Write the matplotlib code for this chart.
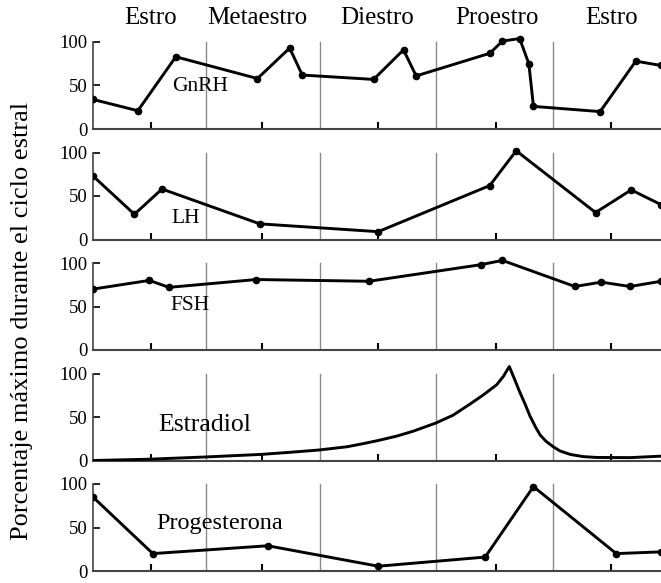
import matplotlib.pyplot as plt

plt.rcParams['font.family'] = ['Liberation Serif', 'DejaVu Serif']

# x axis in "phase units": left axis at 0, each phase about 1 unit wide
phases = ['Estro', 'Metaestro', 'Diestro', 'Proestro', 'Estro']
phase_centers = [0.50, 1.43, 2.47, 3.51, 4.51]
phase_bounds = [0.98, 1.97, 2.98, 4.0]
tick_pos = [0.50, 1.47, 2.48, 3.50, 4.50]

gnrh_x = [0, 0.39, 0.72, 1.43, 1.71, 1.82, 2.44, 2.70, 2.81, 3.45, 3.56, 3.71, 3.79, 3.83, 4.41, 4.72, 4.94]
gnrh_y = [34, 21, 83, 58, 93, 62, 57, 91, 61, 87, 101, 104, 75, 26, 20, 78, 73]

lh_x = [0, 0.36, 0.60, 1.45, 2.48, 3.45, 3.68, 4.37, 4.68, 4.94]
lh_y = [73, 29, 58, 18, 9, 62, 102, 31, 57, 40]

fsh_x = [0, 0.49, 0.66, 1.42, 2.40, 3.37, 3.56, 4.19, 4.42, 4.67, 4.94]
fsh_y = [70, 80, 72, 81, 79, 98, 103, 73, 78, 73, 79]

# estradiol is a smooth curve in the figure, read at many places
estr_x = [0, 0.49, 0.97, 1.46, 1.72, 1.96, 2.21, 2.35, 2.48, 2.64, 2.78, 2.98, 3.13, 3.28,
          3.39, 3.51, 3.57, 3.62, 3.67, 3.71, 3.76, 3.80, 3.85, 3.89, 3.94, 4.0, 4.06,
          4.15, 4.26, 4.38, 4.67, 4.94]
estr_y = [0, 1.5, 4, 7, 9.5, 12, 15.8, 19.4, 23, 28, 33.5, 43, 52, 65,
          75, 87, 97, 108, 92, 79, 64, 51, 38, 29, 22, 16, 11,
          7, 4.5, 3.5, 3.3, 5]

prog_x = [0, 0.52, 1.52, 2.48, 3.41, 3.83, 4.55, 4.94]
prog_y = [85, 20, 29, 5.5, 16, 97, 20, 22]

series = [
    (gnrh_x, gnrh_y, True, 'GnRH', 0.93, 49, 15.5),
    (lh_x, lh_y, True, 'LH', 0.81, 24, 15.5),
    (fsh_x, fsh_y, True, 'FSH', 0.84, 51, 15.5),
    (estr_x, estr_y, False, 'Estradiol', 0.97, 41, 18.5),
    (prog_x, prog_y, True, 'Progesterona', 1.10, 55, 17.5),
]

W, H = 661, 583
fig = plt.figure(figsize=(W / 100, H / 100), dpi=100)

x_left = 93
unit_px = 87  # pixels for 0..100
top_lim = 112

for i, (xs, ys, markers, name, lx, ly, fs) in enumerate(series):
    y0 = 129 + 110.5 * i
    h = unit_px * top_lim / 100
    ax = fig.add_axes([x_left / W, 1 - y0 / H, 1 - x_left / W, h / H])
    ax.set_xlim(0, (W - x_left) / 115)
    ax.set_ylim(0, top_lim)

    for b in phase_bounds:
        ax.plot([b, b], [0, 100], color='#8a8a8a', lw=1, zorder=1)

    ax.plot(xs, ys, color='black', lw=2.1, zorder=3, solid_joinstyle='round',
            marker='o' if markers else None, markersize=4.5)

    ax.text(lx, ly, name, fontsize=fs, ha='center', va='center')

    for s in ['top', 'right']:
        ax.spines[s].set_visible(False)
    ax.spines['left'].set_bounds(0, 100)
    ax.spines['left'].set_color('#444444')
    ax.spines['bottom'].set_color('#444444')
    ax.spines['left'].set_linewidth(1.2)
    ax.spines['bottom'].set_linewidth(1.5)

    ax.set_yticks([0, 50, 100])
    ax.set_xticks(tick_pos)
    ax.set_xticklabels([])
    ax.tick_params(axis='y', direction='in', length=5, width=1.2, labelsize=13.5, pad=4)
    ax.tick_params(axis='x', direction='in', length=5, width=1.5)
    for lbl in ax.get_yticklabels():
        lbl.set_verticalalignment('center_baseline')

    if i == 0:
        for c, p in zip(phase_centers, phases):
            ax.text(c, 128, p, fontsize=18, ha='center', va='center', clip_on=False)

fig.text(22 / W, 1 - 321 / H, 'Porcentaje máximo durante el ciclo estral',
         rotation=90, fontsize=19, ha='center', va='center')

fig.savefig('out.png', dpi=100)
